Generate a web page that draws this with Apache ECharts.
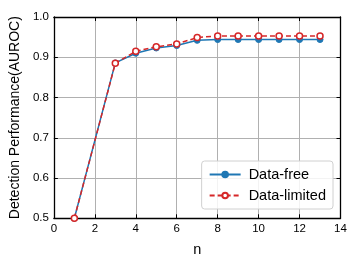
<!DOCTYPE html>
<html><head><meta charset="utf-8">
<script src="https://cdn.jsdelivr.net/npm/echarts@6/dist/echarts.min.js"></script>
<style>html,body{margin:0;padding:0;background:#fff}#c{width:358px;height:265px}</style>
</head><body><div id="c"></div>
<script>
const nValues = [1, 3, 4, 5, 6, 7, 8, 9, 10, 11, 12, 13];
const dataFree = [0.5, 0.886, 0.910, 0.923, 0.929, 0.942, 0.944, 0.944, 0.944, 0.944, 0.944, 0.944];
const dataLimited = [0.5, 0.885, 0.915, 0.926, 0.933, 0.949, 0.953, 0.953, 0.953, 0.953, 0.953, 0.953];
const xTicks = [0, 2, 4, 6, 8, 10, 12, 14];
const yTicks = [0.5, 0.6, 0.7, 0.8, 0.9, 1.0];

const font = 'Liberation Sans, Arial, sans-serif';
const chart = echarts.init(document.getElementById('c'), null, {renderer: 'canvas'});
const axisCommon = {
  axisLine: {show: true, onZero: false, lineStyle: {color: '#000', width: 1.3}},
  axisTick: {show: true, inside: true, length: 4, lineStyle: {color: '#000', width: 1}},
};
chart.setOption({
  animation: false,
  grid: {left: 53, right: 17.5, top: 17, bottom: 46.7, containLabel: false},
  xAxis: [{
    type: 'value', min: xTicks[0], max: xTicks[xTicks.length - 1], interval: 2,
    name: 'n', nameLocation: 'middle', nameGap: 24,
    nameTextStyle: {fontFamily: font, fontSize: 14.5, color: '#000'},
    axisLabel: {fontFamily: font, fontSize: 11.5, color: '#000', margin: 5},
    splitLine: {show: true, lineStyle: {color: '#b0b0b0', width: 1}},
    ...axisCommon
  }, {
    type: 'value', position: 'top', min: xTicks[0], max: xTicks[xTicks.length - 1], interval: 2,
    axisLabel: {show: false}, splitLine: {show: false}, ...axisCommon
  }],
  yAxis: [{
    type: 'value', min: yTicks[0], max: yTicks[yTicks.length - 1], interval: 0.1,
    name: 'Detection Performance(AUROC)', nameLocation: 'middle', nameGap: 28,
    nameTextStyle: {fontFamily: font, fontSize: 14, color: '#000'},
    axisLabel: {fontFamily: font, fontSize: 11.5, color: '#000', margin: 5, formatter: v => v.toFixed(1)},
    splitLine: {show: true, lineStyle: {color: '#b0b0b0', width: 1}},
    ...axisCommon
  }, {
    type: 'value', position: 'right', min: yTicks[0], max: yTicks[yTicks.length - 1], interval: 0.1,
    axisLabel: {show: false}, splitLine: {show: false}, ...axisCommon
  }],
  legend: {
    right: 25, bottom: 56, orient: 'vertical', itemGap: 6,
    itemWidth: 31, itemHeight: 7,
    backgroundColor: 'rgba(255,255,255,0.85)', borderColor: '#d0d0d0', borderWidth: 1, borderRadius: 3,
    padding: [6, 7, 6, 7],
    textStyle: {fontFamily: font, fontSize: 14.5, color: '#000', padding: [0, 0, 0, 3]},
    data: ['Data-free', 'Data-limited']
  },
  series: [{
    name: 'Data-free', type: 'line',
    data: nValues.map((n, i) => [n, dataFree[i]]),
    symbol: 'circle', symbolSize: 6,
    lineStyle: {color: '#1f77b4', width: 1.5},
    itemStyle: {color: '#1f77b4', borderColor: '#1f77b4', borderWidth: 1},
    z: 2
  }, {
    name: 'Data-limited', type: 'line',
    data: nValues.map((n, i) => [n, dataLimited[i]]),
    symbol: 'circle', symbolSize: 6,
    lineStyle: {color: '#d62728', width: 1.5, type: [5, 3]},
    itemStyle: {color: '#fff', borderColor: '#d62728', borderWidth: 1.5},
    z: 3
  }]
});
</script></body></html>
